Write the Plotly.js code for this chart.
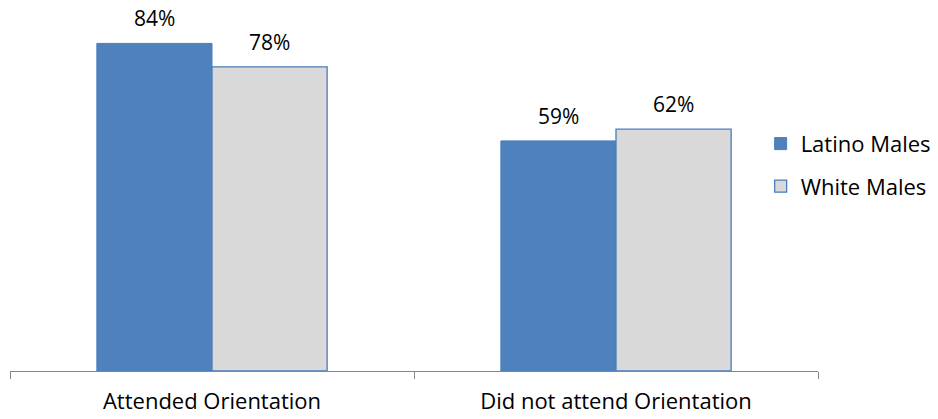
<!DOCTYPE html>
<html>
<head>
<meta charset="utf-8">
<script src="https://cdn.plot.ly/plotly-3.0.1.min.js"></script>
<style>html,body{margin:0;padding:0;background:#fff}#chart{width:938px;height:419px}</style>
</head>
<body>
<div id="chart"></div>
<script>
var categories = ["Attended Orientation", "Did not attend Orientation"];
var latinoMales = [0.84, 0.59];
var whiteMales = [0.78, 0.62];
var seriesNames = ["Latino Males", "White Males"];

var font = "'Open Sans', 'Liberation Sans', sans-serif";

var traces = [
  {
    type: "bar", name: seriesNames[0], x: categories, y: latinoMales,
    marker: {color: "#4F81BD", line: {color: "#4A7EBB", width: 1}},
    legendgroup: "a", hoverinfo: "none"
  },
  {
    type: "bar", name: seriesNames[1], x: categories, y: whiteMales,
    marker: {color: "#D9D9D9", line: {color: "#4A7EBB", width: 1.3}},
    legendgroup: "b", hoverinfo: "none"
  }
];

var annotations = [];
[latinoMales, whiteMales].forEach(function (vals, si) {
  vals.forEach(function (v, ci) {
    annotations.push({
      x: ci, y: v, xref: "x", yref: "y",
      xshift: si === 0 ? -57.5 : 57.5, yshift: 25,
      text: Math.round(v * 100) + "%", showarrow: false,
      font: {family: font, size: 21, color: "#000"},
      yanchor: "middle"
    });
  });
});

var layout = {
  width: 938, height: 419,
  margin: {l: 10, r: 120, t: 20, b: 48, autoexpand: false},
  paper_bgcolor: "#fff", plot_bgcolor: "#fff",
  barmode: "group", bargap: 0.43, bargroupgap: 0,
  showlegend: true,
  legend: {
    x: 0.929, y: 0.586, xanchor: "left", yanchor: "middle",
    font: {family: font, size: 22, color: "#000"},
    traceorder: "grouped", tracegroupgap: 11, itemwidth: 30
  },
  xaxis: {
    type: "category", showline: true, linecolor: "#868686", linewidth: 1,
    ticks: "outside", tickson: "boundaries", ticklen: 7, tickcolor: "#868686",
    tickfont: {family: font, size: 22, color: "#000"},
    ticklabelstandoff: 11,
    showgrid: false, zeroline: false, fixedrange: true
  },
  yaxis: {
    range: [0, 0.9], visible: false, showgrid: false, zeroline: false, fixedrange: true
  },
  annotations: annotations
};

Plotly.newPlot("chart", traces, layout, {displayModeBar: false, staticPlot: true});
</script>
</body>
</html>
